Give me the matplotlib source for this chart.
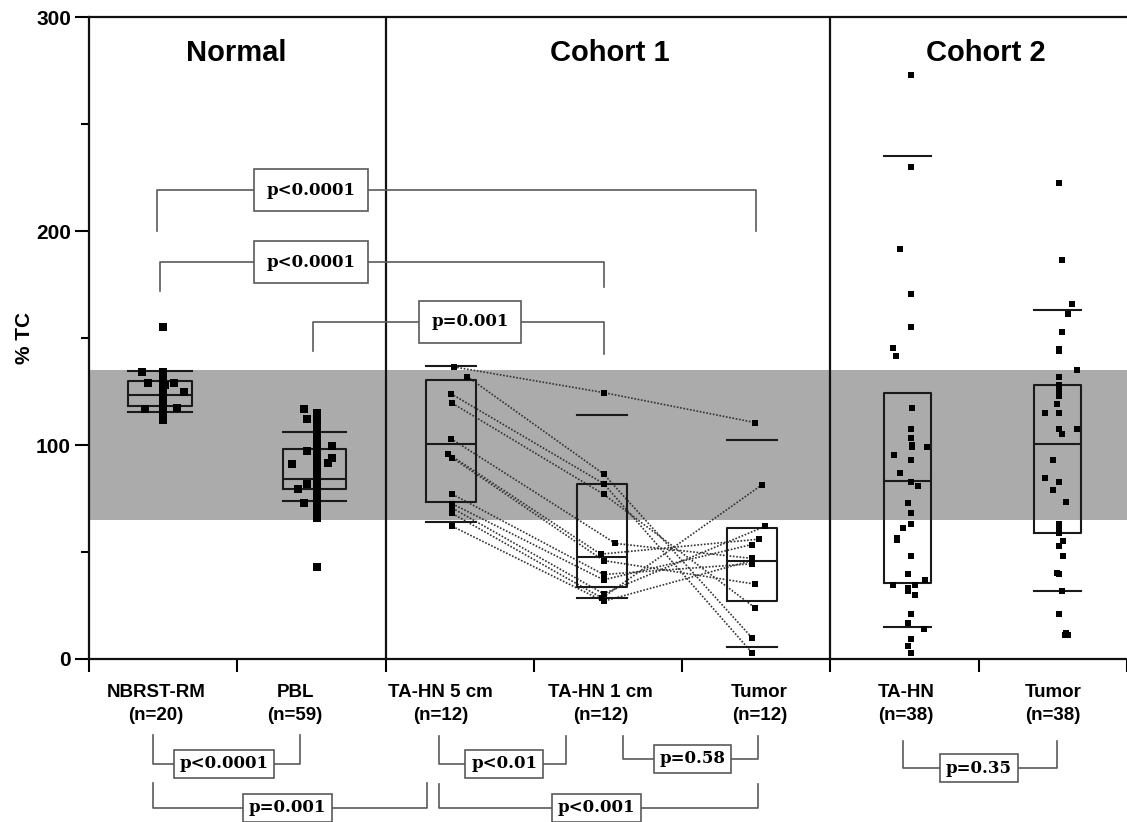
import matplotlib.pyplot as plt
import numpy as np

# category labels (x axis) and panel titles
groups = ['NBRST-RM\n(n=20)', 'PBL\n(n=59)', 'TA-HN 5 cm\n(n=12)', 'TA-HN 1 cm\n(n=12)',
          'Tumor\n(n=12)', 'TA-HN\n(n=38)', 'Tumor\n(n=38)']
panels = ['Normal', 'Cohort 1', 'Cohort 2']

# individual values (% TC)
nbrst = [155, 134, 134, 133, 130, 129, 129, 128, 127, 126, 125, 123, 122, 120.5, 118,
         117, 117.5, 116, 113.5, 111.5]
pbl = [117, 115, 113, 112, 110, 108, 106, 104, 102, 100, 99.5, 99, 98, 97, 96, 95, 94,
       93, 92, 91.5, 91, 90, 89, 88.5, 88, 87, 86.5, 86, 85.5, 85, 84.5, 84, 84, 83.5, 83,
       82.5, 82, 81.5, 81, 80.5, 80, 79.5, 79, 78.5, 78, 77, 76, 75, 74, 73, 72, 71, 70,
       69.5, 69, 68, 67, 66, 43]
# cohort 1 is paired: same patient order in each list
c1_5cm = [136.5, 132, 124, 119.5, 103, 96, 94, 77, 72.5, 70.5, 68, 62]
c1_1cm = [124.5, 86.5, 82, 77, 54, 49, 46, 39.5, 37, 30.5, 28.5, 27]
c1_tumor = [110.5, 10, 3, 24, 47, 56, 35, 44.5, 53.5, 62, 81.5, 46]
c2_tahn = [273, 230, 191.5, 170.5, 155, 145.5, 141.5, 117.5, 107.5, 103.5, 99, 99, 95.5,
           93, 87, 82.5, 81, 73, 68, 63, 61, 56.5, 55.5, 48, 100, 39.5, 37, 33, 34.5, 34.5,
           32, 30, 21, 17, 14, 9.5, 6, 3]
c2_tumor = [222.5, 186.5, 166, 161, 153, 145, 144, 135, 132, 128, 127, 125, 123, 119, 115,
            115, 107.5, 107.5, 105, 93, 84.5, 82.5, 79, 73.5, 63, 61.5, 60, 59, 55, 53, 48,
            40, 39.5, 32, 21, 11, 11, 12]

# horizontal scatter of the points (as drawn)
nbrst_dx = [0.02, -0.12, 0.02, 0.02, 0.02, -0.08, 0.09, 0.03, 0.02, 0.02, 0.16, 0.02, 0.02,
            0.02, 0.02, -0.10, 0.11, 0.02, 0.02, 0.02]
pbl_dx = [-0.07, 0.02, 0.02, -0.05, 0.02, 0.02, 0.02, 0.02, 0.02, 0.02, 0.12, 0.02, 0.02,
          -0.05, 0.02, 0.02, 0.12, 0.02, 0.02, 0.09, -0.15, 0.02, 0.02, 0.02, 0.02, 0.02,
          0.02, 0.02, 0.02, 0.02, 0.02, 0.02, 0.02, 0.02, 0.02, 0.02, -0.05, 0.02, 0.02,
          0.02, 0.02, -0.11, 0.02, 0.02, 0.02, 0.02, 0.02, 0.02, 0.02, -0.07, 0.02, 0.02,
          0.02, 0.02, 0.02, 0.02, 0.02, 0.02, 0.02]
c1_5cm_dx = [0.02, 0.11, 0, 0.01, 0, -0.02, 0.01, 0.01, 0.01, 0.01, 0.01, 0.01]
c1_1cm_dx = [0.01, 0.01, 0.01, 0.01, 0.09, -0.01, 0.01, 0.01, 0.01, 0.01, 0, 0.01]
c1_tumor_dx = [0.02, 0, 0, 0.02, 0, 0.05, 0.02, 0, 0, 0.09, 0.07, 0]
c2_tahn_dx = [0.02, 0.02, -0.05, 0.02, 0.02, -0.10, -0.08, 0.03, 0.02, 0.02, 0.03, 0.13,
              -0.09, 0.02, -0.05, 0.02, 0.07, 0.0, 0.02, 0.02, -0.03, -0.07, -0.07, 0.02,
              0.03, 0.0, 0.12, 0.0, -0.10, 0.05, 0.0, 0.05, 0.02, 0.0, 0.11, 0.02, 0.0, 0.02]
c2_tumor_dx = [0.01, 0.03, 0.10, 0.07, 0.03, 0.01, 0.01, 0.13, 0.01, 0.01, 0.01, 0.01, 0.01,
               0.0, -0.08, 0.01, 0.13, 0.01, 0.03, -0.03, -0.08, 0.01, -0.03, 0.06, 0.01,
               0.01, 0.01, 0.01, 0.04, 0.01, 0.04, 0.0, 0.01, 0.03, 0.01, 0.05, 0.07, 0.06]

# box summaries
box_q1 = [118, 79.5, 73.5, 33.5, 27, 35.5, 59]
box_med = [123.5, 84, 100.5, 47.5, 46, 83, 100.5]
box_q3 = [130, 98, 130.5, 82, 61, 124.5, 128]
cap_lo = [115.5, 74, 64, 28.5, 5.5, 15, 32]
cap_hi = [134.6, 106, 137, 114, 102.5, 235, 163]

# normal range band
band_lo, band_hi = 65, 135

# p-value annotations: (left x, right x, bar y, left leg end, right leg end, text, text x)
top_tests = [
    (-0.04, 4.00, 219, 200, 200, 'p<0.0001', 1.00),
    (-0.02, 2.97, 185.5, 172, 174, 'p<0.0001', 1.00),
    (1.01, 2.97, 157.5, 144, 142.5, 'p=0.001', 2.07),
]
bottom_tests = [
    (-0.07, 0.92, -49, -35.5, -35.5, 'p<0.0001', 0.41),
    (1.86, 2.72, -49, -36, -36, 'p<0.01', 2.30),
    (3.10, 4.01, -46.7, -36, -36, 'p=0.58', 3.57),
    (4.99, 6.03, -51, -38.3, -38.3, 'p=0.35', 5.50),
    (-0.07, 1.78, -69.6, -58, -58, 'p=0.001', 0.84),
    (1.86, 4.01, -69.6, -58.4, -58.4, 'p<0.001', 2.92),
]

sans = 'Liberation Sans'
serif = 'DejaVu Serif'

fig = plt.figure(figsize=(11.27, 8.22), dpi=100)
ax = fig.add_axes([0.079, 0.1983, 0.921, 0.781])

pos = [-0.02, 1.02, 1.94, 2.96, 3.97, 5.02, 6.03]
widths = [0.43, 0.43, 0.34, 0.34, 0.34, 0.32, 0.32]

ax.axhspan(band_lo, band_hi, color='#ababab', lw=0, zorder=0)

# boxes with caps, no whisker stems
stats = []
for i in range(len(groups)):
    stats.append(dict(q1=box_q1[i], med=box_med[i], q3=box_q3[i],
                      whislo=cap_lo[i], whishi=cap_hi[i], fliers=[]))
line_kw = dict(color='#1a1a1a', linewidth=1.5)
ax.bxp(stats, positions=pos, widths=widths, capwidths=widths, showfliers=False,
       boxprops=line_kw, medianprops=line_kw, capprops=line_kw,
       whiskerprops=dict(linestyle='none'), manage_ticks=False, zorder=3)

# paired lines for cohort 1
for a, b, c, da, db, dc in zip(c1_5cm, c1_1cm, c1_tumor, c1_5cm_dx, c1_1cm_dx, c1_tumor_dx):
    ax.plot([pos[2] + da, pos[3] + db, pos[4] + dc], [a, b, c],
            color='#333333', lw=1.2, ls=(0, (1, 1)), zorder=2)

all_vals = [nbrst, pbl, c1_5cm, c1_1cm, c1_tumor, c2_tahn, c2_tumor]
all_dx = [nbrst_dx, pbl_dx, c1_5cm_dx, c1_1cm_dx, c1_tumor_dx, c2_tahn_dx, c2_tumor_dx]
msize = [5.5, 5.5, 4.5, 4.5, 4.5, 4.5, 4.5]
for i, (vals, dx) in enumerate(zip(all_vals, all_dx)):
    ax.plot(pos[i] + np.array(dx), vals, 's', color='black', ms=msize[i], mew=0, zorder=4)

# panel dividers
for xd in [1.5, 4.5]:
    ax.axvline(xd, color='#111111', lw=1.6, zorder=5)

# panel titles
for title, tx in zip(panels, [0.49, 3.01, 5.55]):
    ax.text(tx, 283, title, ha='center', va='center', fontsize=21,
            fontweight='bold', family=sans)

# significance brackets
def bracket(x0, x1, yb, y0, y1, label, tx, pad):
    ax.plot([x0, x0, x1, x1], [y0, yb, yb, y1], color='#5a5a5a', lw=1.2,
            clip_on=False, zorder=6)
    ax.text(tx, yb, label, ha='center', va='center', fontsize=12, fontweight='bold',
            family=serif, zorder=7, clip_on=False,
            bbox=dict(boxstyle=f'square,pad={pad}', facecolor='white',
                      edgecolor='#5a5a5a', linewidth=1.2))

for t in top_tests:
    bracket(*t, pad=0.75)
for t in bottom_tests:
    bracket(*t, pad=0.35)

ax.set_xlim(-0.5, 6.5)
ax.set_ylim(0, 300)

ax.set_xticks(np.arange(-0.5, 7, 1))
ax.set_xticklabels([])
label_x = [-0.05, 0.89, 1.87, 2.95, 4.02, 5.01, 6.0]
ax.set_xticks(label_x, groups, minor=True)
ax.tick_params(axis='x', which='major', length=9, width=1.5, direction='out')
ax.tick_params(axis='x', which='minor', length=0, pad=18)
for lab in ax.get_xticklabels(minor=True):
    lab.set_fontsize(13.5)
    lab.set_fontweight('bold')
    lab.set_family(sans)
    lab.set_linespacing(1.5)

ax.set_yticks([0, 100, 200, 300])
ax.set_yticks([50, 150, 250], minor=True)
ax.tick_params(axis='y', which='major', length=10, width=1.5, pad=3)
ax.tick_params(axis='y', which='minor', length=6, width=1.5)
for lab in ax.get_yticklabels():
    lab.set_fontsize(15)
    lab.set_fontweight('bold')
    lab.set_family(sans)

ax.text(-0.062, 0.5, '% TC', transform=ax.transAxes, rotation=90, ha='center',
        va='center', fontsize=15, fontweight='bold', family=sans)

for side in ['left', 'bottom', 'top']:
    ax.spines[side].set_linewidth(1.6)
    ax.spines[side].set_color('#111111')
ax.spines['right'].set_visible(False)

fig.savefig('out.png', dpi=100)
